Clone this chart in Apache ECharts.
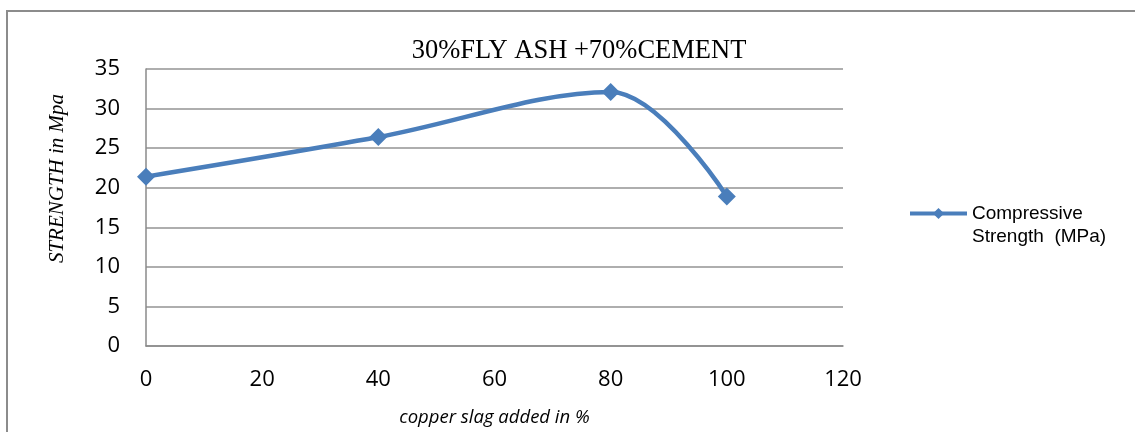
<!DOCTYPE html>
<html>
<head>
<meta charset="utf-8">
<title>30%FLY ASH +70%CEMENT</title>
<script src="https://cdn.jsdelivr.net/npm/echarts@6/dist/echarts.min.js"></script>
<style>
  html, body { margin: 0; padding: 0; background: #ffffff; }
  #chart { width: 1135px; height: 432px; }
</style>
</head>
<body>
<div id="chart"></div>
<script>
// Copper slag replacement (%) and measured compressive strength (MPa)
const slagPercent = [0, 40, 80, 100];
const strengthMPa = [21.4, 26.4, 32.1, 18.9];
const seriesName = 'Compressive Strength (MPa)';
const titleText = '30%FLY ASH +70%CEMENT';
const yAxisTitle = 'STRENGTH in Mpa';
const xAxisTitle = 'copper slag added in %';

const points = slagPercent.map((x, i) => [x, strengthMPa[i]]);

const chart = echarts.init(document.getElementById('chart'), null, { renderer: 'canvas' });

const axisGrey = '#8a8a8a';
const lineBlue = '#4a7ebb';

chart.setOption({
  animation: false,
  backgroundColor: '#ffffff',
  title: {
    text: titleText,
    left: 574,
    textAlign: 'center',
    top: 33,
    textStyle: {
      fontFamily: '"Liberation Serif", "Times New Roman", serif',
      fontWeight: 'normal',
      fontSize: 26.5,
      color: '#000000'
    }
  },
  legend: {
    left: 903,
    top: 174,
    itemWidth: 57,
    itemHeight: 14,
    itemGap: 4,
    // blank first line keeps the marker level with the first text line
    formatter: () => ' \nCompressive\nStrength  (MPa)',
    lineStyle: { width: 4 },
    textStyle: {
      fontFamily: '"Liberation Sans", Arial, sans-serif',
      fontSize: 19,
      lineHeight: 23,
      color: '#000000'
    },
    data: [seriesName]
  },
  grid: {
    left: 146,
    right: 1135 - 843,
    top: 69,
    bottom: 432 - 346
  },
  xAxis: {
    type: 'value',
    min: 0,
    max: 120,
    interval: 20,
    name: xAxisTitle,
    nameLocation: 'middle',
    nameGap: 62,
    nameTextStyle: {
      fontFamily: '"Open Sans", "Noto Sans", sans-serif',
      fontStyle: 'italic',
      fontSize: 18.5,
      color: '#000000'
    },
    axisLine: { show: true, lineStyle: { color: axisGrey, width: 1.5 } },
    axisTick: { show: false },
    splitLine: { show: false },
    axisLabel: {
      margin: 23,
      fontFamily: '"Open Sans", "Noto Sans", sans-serif',
      fontSize: 22,
      color: '#000000'
    }
  },
  yAxis: {
    type: 'value',
    min: 0,
    max: 35,
    interval: 5,
    name: yAxisTitle,
    nameLocation: 'middle',
    nameGap: 78,
    nameTextStyle: {
      fontFamily: '"Liberation Serif", "Times New Roman", serif',
      fontStyle: 'italic',
      fontSize: 21,
      color: '#000000',
      padding: [0, 0, 0, 58]
    },
    axisLine: { show: true, lineStyle: { color: axisGrey, width: 1.5 } },
    axisTick: { show: false },
    splitLine: { show: true, lineStyle: { color: '#939393', width: 1.5 } },
    axisLabel: {
      margin: 26,
      fontFamily: '"Open Sans", "Noto Sans", sans-serif',
      fontSize: 22,
      color: '#000000'
    }
  },
  series: [{
    name: seriesName,
    type: 'line',
    data: points,
    smooth: 0.35,
    symbol: 'diamond',
    symbolSize: 18,
    lineStyle: { color: lineBlue, width: 4.5 },
    itemStyle: { color: lineBlue },
    z: 3
  }],
  graphic: [{
    // chart frame: left and top edges (the others run past the page)
    type: 'polyline',
    shape: { points: [[7, 500], [7, 11], [1300, 11]] },
    style: { fill: 'none', stroke: '#8c8c8c', lineWidth: 2 },
    silent: true,
    z: -1
  }]
});
</script>
</body>
</html>
